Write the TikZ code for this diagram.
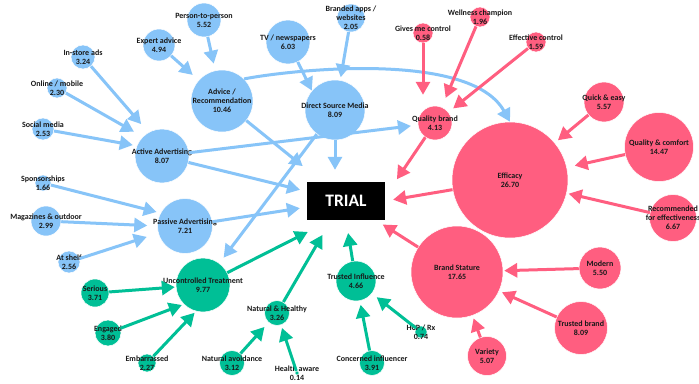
\documentclass[tikz,border=0pt]{standalone}
\usepackage{fontspec}
\setmainfont{Carlito}
\usetikzlibrary{arrows.meta}
\definecolor{bubblue}{RGB}{135,196,248}
\definecolor{bubpink}{RGB}{255,94,128}
\definecolor{bubgreen}{RGB}{0,191,150}
\tikzset{
bub/.style={circle, inner sep=0pt, draw=white, line width=0.5pt},
bluebub/.style={bub, fill=bubblue},
pinkbub/.style={bub, fill=bubpink},
greenbub/.style={bub, fill=bubgreen},
lbl/.style={align=center, inner sep=0pt, text=black!90,
  font=\bfseries\fontsize{8}{9}\selectfont},
arr/.style={line width=3pt, -{Triangle[length=13pt,width=14pt]}},
bluearr/.style={arr, draw=bubblue},
pinkarr/.style={arr, draw=bubpink},
greenarr/.style={arr, draw=bubgreen}
}

\begin{document}
\begin{tikzpicture}[x=1pt,y=-1pt]
\path[use as bounding box, fill=white] (0,0) rectangle (699,383);
% blue: advertising and advice
\node[bluebub, minimum size=34pt, label={[lbl]center:{Person-to-person\\5.52}}] (p2p) at (204,20) {};
\node[bluebub, minimum size=32pt, label={[lbl]center:{Expert advice\\4.94}}] (expert) at (159,45) {};
\node[bluebub, minimum size=24pt, label={[lbl]center:{In-store ads\\3.24}}] (instore) at (83,57) {};
\node[bluebub, minimum size=20pt, label={[lbl]center:{Online / mobile\\2.30}}] (online) at (57,88) {};
\node[bluebub, minimum size=22pt, label={[lbl]center:{Social media\\2.53}}] (social) at (43,129) {};
\node[bluebub, minimum size=62pt, label={[lbl]center:{Advice /\\Recommendation\\10.46}}] (advice) at (222,101) {};
\node[bluebub, minimum size=44pt, label={[lbl]center:{TV / newspapers\\6.03}}] (tv) at (288,42) {};
\node[bluebub, minimum size=28pt, label={[lbl]center:{Branded apps /\\websites\\2.05}}] (apps) at (351,18) {};
\node[bluebub, minimum size=60pt, label={[lbl]center:{Direct Source Media\\8.09}}] (dsm) at (335,110) {};
\node[bluebub, minimum size=54pt, label={[lbl]center:{Active Advertising\\8.07}}] (active) at (162,156) {};
\node[bluebub, minimum size=16pt, label={[lbl]center:{Sponsorships\\1.66}}] (spons) at (43,183) {};
\node[bluebub, minimum size=30pt, label={[lbl]center:{Magazines \& outdoor\\2.99}}] (mags) at (46,221) {};
\node[bluebub, minimum size=55pt, label={[lbl]center:{Passive Advertising\\7.21}}] (passive) at (185,226) {};
\node[bluebub, minimum size=22pt, label={[lbl]center:{At shelf\\2.56}}] (shelf) at (69,262) {};
% green: treatment and influence
\node[greenbub, minimum size=54pt, label={[lbl]center:{Uncontrolled Treatment\\9.77}}] (unc) at (203,285) {};
\node[greenbub, minimum size=28pt, label={[lbl]center:{Serious\\3.71}}] (serious) at (95,293) {};
\node[greenbub, minimum size=26pt, label={[lbl]center:{Engaged\\3.80}}] (engaged) at (108,333) {};
\node[greenbub, minimum size=18pt, label={[lbl]center:{Embarrassed\\2.27}}] (embarr) at (147,363) {};
\node[greenbub, minimum size=25pt, label={[lbl]center:{Natural \& Healthy\\3.26}}] (nathealthy) at (277,313) {};
\node[greenbub, minimum size=25pt, label={[lbl]center:{Natural avoidance\\3.12}}] (natavoid) at (232,363) {};
\node[greenbub, minimum size=4pt, label={[lbl]center:{Health aware\\0.14}}] (health) at (297,373) {};
\node[greenbub, minimum size=40pt, label={[lbl]center:{Trusted Influence\\4.66}}] (trusted) at (356,281) {};
\node[greenbub, minimum size=12pt, label={[lbl]center:{HCP / Rx\\0.74}}] (hcp) at (421,332) {};
\node[greenbub, minimum size=25pt, label={[lbl]center:{Concerned influencer\\3.91}}] (concern) at (372,363) {};
% pink: efficacy and brand
\node[pinkbub, minimum size=20pt, label={[lbl]center:{Gives me control\\0.58}}] (gives) at (423,33) {};
\node[pinkbub, minimum size=20pt, label={[lbl]center:{Wellness champion\\1.96}}] (wellness) at (480,17) {};
\node[pinkbub, minimum size=20pt, label={[lbl]center:{Effective control\\1.59}}] (effctrl) at (536,42) {};
\node[pinkbub, minimum size=34pt, label={[lbl]center:{Quality brand\\4.13}}] (qbrand) at (435,123) {};
\node[pinkbub, minimum size=116pt, label={[lbl]center:{Efficacy\\26.70}}] (efficacy) at (510,180) {};
\node[pinkbub, minimum size=40pt, label={[lbl]center:{Quick \& easy\\5.57}}] (quick) at (604,102) {};
\node[pinkbub, minimum size=69pt, label={[lbl]center:{Quality \& comfort\\14.47}}] (qcomfort) at (659,147) {};
\node[pinkbub, minimum size=47pt, label={[lbl]center:{Recommended\\for effectiveness\\6.67}}] (recomm) at (673,218) {};
\node[pinkbub, minimum size=92pt, label={[lbl]center:{Brand Stature\\17.65}}] (stature) at (457,272) {};
\node[pinkbub, minimum size=42pt, label={[lbl]center:{Modern\\5.50}}] (modern) at (600,268) {};
\node[pinkbub, minimum size=53pt, label={[lbl]center:{Trusted brand\\8.09}}] (tbrand) at (581,328) {};
\node[pinkbub, minimum size=39pt, label={[lbl]center:{Variety\\5.07}}] (variety) at (487,356) {};
% the target
\node[fill=black, text=white, inner sep=0pt, minimum width=78pt, minimum height=38pt,
  font=\bfseries\fontsize{17.5}{20}\selectfont] (trial) at (346,201) {TRIAL};
% blue arrows
\draw[bluearr, shorten >=7pt] (p2p) -- (advice);
\draw[bluearr, shorten >=8pt] (expert) -- (advice);
\draw[bluearr] (tv) -- (dsm.140);
\draw[bluearr, shorten >=3pt] (apps) -- (dsm.80);
\draw[bluearr, shorten >=11pt] (instore) -- (active.120);
\draw[bluearr, shorten >=10pt] (online) -- (active.135);
\draw[bluearr, shorten >=4pt] (social) -- (active.158);
\draw[bluearr, shorten >=4pt] (spons) -- (passive.152);
\draw[bluearr, shorten >=10pt] (mags) -- (passive.180);
\draw[bluearr, shorten >=12pt] (shelf) -- (passive.-165);
\draw[bluearr, shorten >=25pt] (advice) -- (trial);
\draw[bluearr, shorten >=12pt] (dsm) -- (dsm |- trial.north);
\draw[bluearr, shorten >=7pt] (active) -- (trial);
\draw[bluearr, shorten >=7pt] (passive) -- (trial);
\draw[bluearr, shorten >=7pt] (active) -- (qbrand);
\draw[bluearr, shorten >=7pt] (dsm) -- (unc);
\draw[bluearr] (advice.45) .. controls (290,70) and (470,50) .. (efficacy.north);
% pink arrows
\draw[pinkarr, shorten >=11pt] (gives) -- (gives |- qbrand.north);
\draw[pinkarr, shorten >=10pt] (wellness) -- (qbrand);
\draw[pinkarr, shorten >=6pt] (effctrl) -- (qbrand);
\draw[pinkarr, shorten >=3pt] (qbrand) -- ([xshift=10pt]trial.north east);
\draw[pinkarr, shorten >=8pt] (efficacy) -- (trial.east);
\draw[pinkarr, shorten >=8pt] (stature) -- (trial);
\draw[pinkarr, shorten >=4pt] (quick) -- (efficacy);
\draw[pinkarr, shorten >=8pt] (qcomfort) -- (efficacy);
\draw[pinkarr, shorten >=2pt] (recomm) -- (efficacy);
\draw[pinkarr, shorten >=1pt] (modern) -- (stature);
\draw[pinkarr, shorten >=3pt] (tbrand) -- (stature);
\draw[pinkarr, shorten >=3pt] (variety) -- (stature);
% green arrows
\draw[greenarr, shorten >=1pt] (serious) -- (unc);
\draw[greenarr, shorten >=2pt] (engaged) -- (unc.south west);
\draw[greenarr, shorten >=2pt] (embarr) -- (unc.-105);
\draw[greenarr, shorten >=26pt] (unc) -- ([xshift=-15pt]trial.south);
\draw[greenarr, shorten >=17pt] (nathealthy) -- ([xshift=-15pt]trial.south);
\draw[greenarr, shorten >=13pt] (trusted) -- (trial.south);
\draw[greenarr, shorten >=6pt] (natavoid) -- (nathealthy);
\draw[greenarr, shorten >=3pt] (health) -- (nathealthy);
\draw[greenarr, shorten >=4pt] (concern) -- (trusted);
\draw[greenarr, shorten >=6pt] (hcp) -- (trusted);
\end{tikzpicture}
\end{document}
